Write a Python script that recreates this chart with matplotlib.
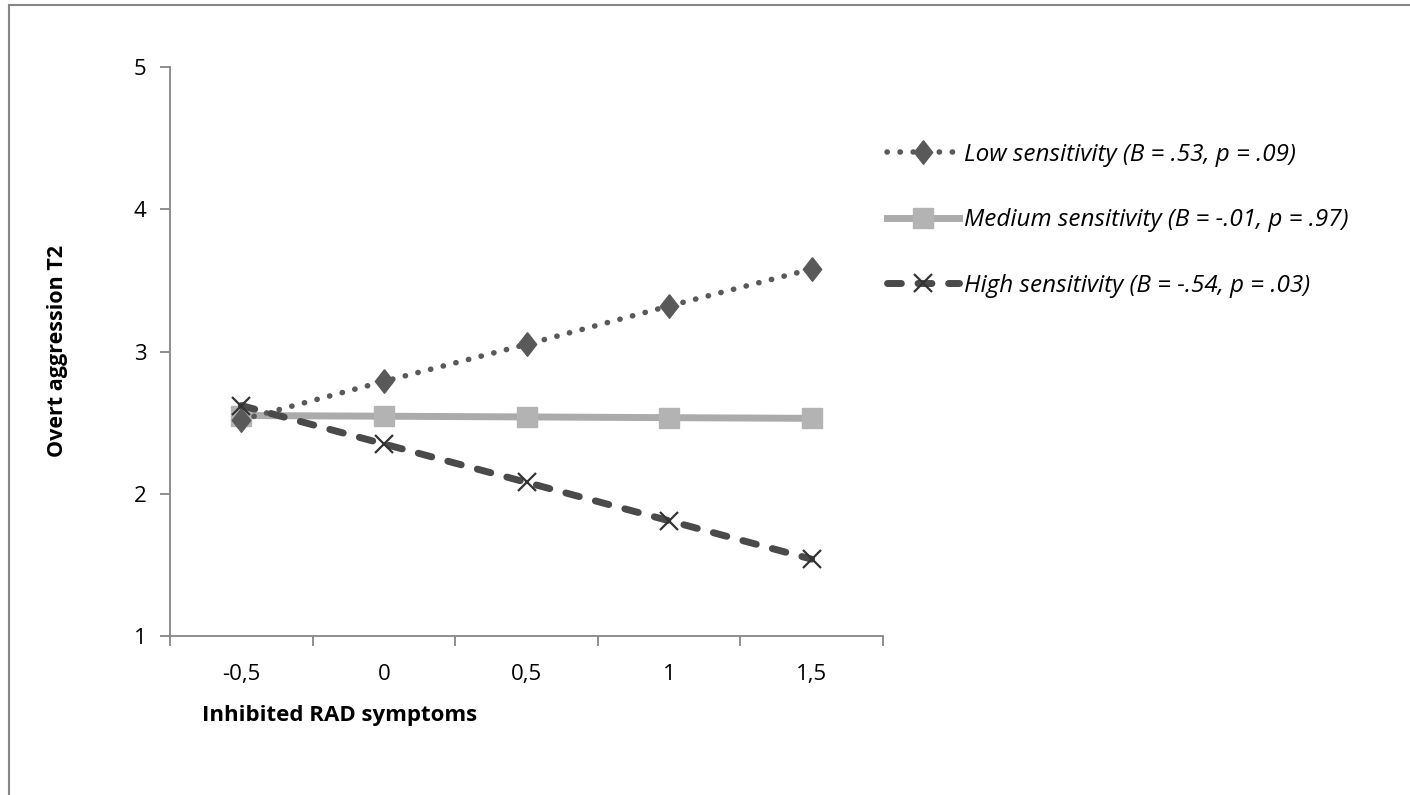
import matplotlib
matplotlib.use("Agg")
import matplotlib.pyplot as plt
from matplotlib.patches import Rectangle

categories = ["-0,5", "0", "0,5", "1", "1,5"]
x_values = [-0.5, 0.0, 0.5, 1.0, 1.5]
low = [2.52, 2.79, 3.05, 3.32, 3.58]
medium = [2.55, 2.545, 2.54, 2.535, 2.53]
high = [2.62, 2.35, 2.08, 1.81, 1.54]
labels = ["Low sensitivity (B = .53, p = .09)",
          "Medium sensitivity (B = -.01, p = .97)",
          "High sensitivity (B = -.54, p = .03)"]
y_ticks = [1, 2, 3, 4, 5]

plt.rcParams['font.family'] = ['Open Sans', 'DejaVu Sans']

diamond = [(0, 1), (0.78, 0), (0, -1), (-0.78, 0), (0, 1)]

fig = plt.figure(figsize=(14.1, 7.95), dpi=100)
ax = fig.add_axes([170/1410, 1-636/795, (883-170)/1410, (636-67)/795])

l1, = ax.plot(x_values, low, color='#595959', linestyle=(0, (0.05, 2.3)), linewidth=4,
              dash_capstyle='round', marker=diamond, markersize=17, markerfacecolor='#595959',
              markeredgecolor='#595959', zorder=3)
l2, = ax.plot(x_values, medium, color='#ABABAB', linestyle='-', linewidth=5,
              marker='s', markersize=14, markerfacecolor='#B3B3B3', markeredgecolor='#B3B3B3', zorder=2)
l3, = ax.plot(x_values, high, color='#4A4A4A', linestyle=(0, (2.0, 2.4)), linewidth=5,
              dash_capstyle='round', marker='x', markersize=13, markeredgewidth=1.6,
              markeredgecolor='#333333', zorder=4)

ax.set_xlim(-0.75, 1.75)
ax.set_ylim(1, 5)
ax.set_yticks(y_ticks)
ax.set_yticklabels([str(v) for v in y_ticks])
ax.set_xticks([-0.75, -0.25, 0.25, 0.75, 1.25, 1.75])
ax.set_xticklabels([])
ax.set_xticks(x_values, minor=True)
ax.set_xticklabels(categories, minor=True)

for s in ['top', 'right']:
    ax.spines[s].set_visible(False)
for s in ['left', 'bottom']:
    ax.spines[s].set_color('#868686')
    ax.spines[s].set_linewidth(1.3)
ax.tick_params(axis='both', which='major', length=7, width=1.3, color='#868686', labelsize=16)
ax.tick_params(axis='x', which='minor', length=0, labelsize=16, pad=20)
ax.tick_params(axis='y', pad=10)

fig.text(58/1410, 1-351/795, "Overt aggression T2", rotation=90, fontsize=15.5,
         fontweight='bold', ha='center', va='center')
fig.text(340/1410, 1-715/795, "Inhibited RAD symptoms", fontsize=16,
         fontweight='bold', ha='center', va='center')

leg = fig.legend([l1, l2, l3], labels, loc='upper left',
                 bbox_to_anchor=(865/1410, 1-121/795), frameon=False,
                 prop={'style': 'italic', 'size': 17.5}, handlelength=2.96,
                 handletextpad=0.22, labelspacing=1.7, numpoints=1)

fig.patches.append(Rectangle((9/1410, -0.1), 1.2, 1-5/795+0.1, transform=fig.transFigure,
                             fill=False, edgecolor='#878787', linewidth=1.5))

fig.savefig("out.png", dpi=100)
